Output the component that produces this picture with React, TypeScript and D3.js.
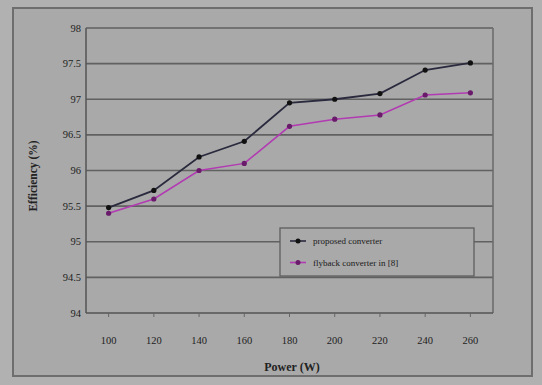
import React, { useEffect, useRef } from "react";
import * as d3 from "d3";

const powers = [100, 120, 140, 160, 180, 200, 220, 240, 260];
const proposed = [95.48, 95.72, 96.19, 96.41, 96.95, 97.0, 97.08, 97.41, 97.51];
const flyback = [95.4, 95.6, 96.0, 96.1, 96.62, 96.72, 96.78, 97.06, 97.09];
const yTicks = [94, 94.5, 95, 95.5, 96, 96.5, 97, 97.5, 98];
const seriesNames = ["proposed converter", "flyback converter in [8]"];

const App = () => {
  const svgRef = useRef<SVGSVGElement>(null);

  useEffect(() => {
    const width = 542;
    const height = 385;
    const plot = { left: 86, right: 493, top: 28, bottom: 313 };

    const svg = d3.select(svgRef.current);
    svg.selectAll("*").remove();

    // page + chart frame
    svg.append("rect").attr("width", width).attr("height", height).attr("fill", "#b1b1b1");
    svg.append("rect")
      .attr("x", 13).attr("y", 8).attr("width", 519).attr("height", 368)
      .attr("fill", "#a9a9a9").attr("stroke", "#6e6e6e").attr("stroke-width", 2);

    const x = d3.scaleBand<number>()
      .domain(powers)
      .range([plot.left, plot.right]);
    const y = d3.scaleLinear().domain([94, 98]).range([plot.bottom, plot.top]);

    // gridlines
    svg.append("g")
      .selectAll("line")
      .data(yTicks.slice(1))
      .enter()
      .append("line")
      .attr("x1", plot.left).attr("x2", plot.right)
      .attr("y1", d => y(d)).attr("y2", d => y(d))
      .attr("stroke", "#616161").attr("stroke-width", 1.6);

    // plot borders (left, right, bottom)
    svg.append("line")
      .attr("x1", plot.left).attr("x2", plot.left)
      .attr("y1", plot.top).attr("y2", plot.bottom)
      .attr("stroke", "#555").attr("stroke-width", 1.5);
    svg.append("line")
      .attr("x1", plot.right).attr("x2", plot.right)
      .attr("y1", plot.top).attr("y2", plot.bottom)
      .attr("stroke", "#6a6a6a").attr("stroke-width", 1.5);
    svg.append("line")
      .attr("x1", plot.left).attr("x2", plot.right)
      .attr("y1", plot.bottom).attr("y2", plot.bottom)
      .attr("stroke", "#555").attr("stroke-width", 1.5);

    // x tick marks
    svg.append("g")
      .selectAll("line")
      .data(powers)
      .enter()
      .append("line")
      .attr("x1", d => x(d)! + x.bandwidth() / 2)
      .attr("x2", d => x(d)! + x.bandwidth() / 2)
      .attr("y1", plot.bottom).attr("y2", plot.bottom + 4)
      .attr("stroke", "#666");

    const font = "'Liberation Serif', 'DejaVu Serif', serif";

    // y tick labels
    svg.append("g")
      .selectAll("text")
      .data(yTicks)
      .enter()
      .append("text")
      .attr("x", 81)
      .attr("y", d => y(d) + 3.5)
      .attr("text-anchor", "end")
      .attr("font-family", font).attr("font-size", 10.5)
      .attr("fill", "#222")
      .text(d => String(d));

    // x tick labels
    svg.append("g")
      .selectAll("text")
      .data(powers)
      .enter()
      .append("text")
      .attr("x", d => x(d)! + x.bandwidth() / 2)
      .attr("y", 344)
      .attr("text-anchor", "middle")
      .attr("font-family", font).attr("font-size", 10.5)
      .attr("fill", "#222")
      .text(d => String(d));

    // axis titles
    svg.append("text")
      .attr("x", 292).attr("y", 371)
      .attr("text-anchor", "middle")
      .attr("font-family", font).attr("font-size", 12).attr("font-weight", "bold")
      .attr("fill", "#222")
      .text("Power (W)");
    svg.append("text")
      .attr("transform", "translate(37,176) rotate(-90)")
      .attr("text-anchor", "middle")
      .attr("font-family", font).attr("font-size", 11.5).attr("font-weight", "bold")
      .attr("fill", "#222")
      .text("Efficiency (%)");

    const line = d3.line<number>()
      .x((_, i) => x(powers[i])! + x.bandwidth() / 2)
      .y(d => y(d));

    const series = [
      { values: flyback, color: "#b23ab2", marker: "#6a1a6a", width: 1.5 },
      { values: proposed, color: "#2a2a3e", marker: "#111", width: 1.8 },
    ];

    series.forEach(s => {
      svg.append("path")
        .datum(s.values)
        .attr("fill", "none")
        .attr("stroke", s.color)
        .attr("stroke-width", s.width)
        .attr("d", line);
      svg.append("g")
        .selectAll("circle")
        .data(s.values)
        .enter()
        .append("circle")
        .attr("cx", (_, i) => x(powers[i])! + x.bandwidth() / 2)
        .attr("cy", d => y(d))
        .attr("r", 2.6)
        .attr("fill", s.marker);
    });

    // legend
    const lg = svg.append("g").attr("transform", "translate(280,228)");
    lg.append("rect")
      .attr("width", 194).attr("height", 48)
      .attr("fill", "#a9a9a9").attr("stroke", "#5e5e5e").attr("stroke-width", 1.3);
    const legendColors = [
      { color: "#2a2a3e", marker: "#111" },
      { color: "#b23ab2", marker: "#6a1a6a" },
    ];
    seriesNames.forEach((name, i) => {
      const yy = 13 + i * 21.5;
      lg.append("line")
        .attr("x1", 10).attr("x2", 26).attr("y1", yy).attr("y2", yy)
        .attr("stroke", legendColors[i].color).attr("stroke-width", 1.6);
      lg.append("circle")
        .attr("cx", 18).attr("cy", yy).attr("r", 2.5)
        .attr("fill", legendColors[i].marker);
      lg.append("text")
        .attr("x", 33).attr("y", yy + 3)
        .attr("font-family", font).attr("font-size", 9)
        .attr("fill", "#1a1a1a")
        .text(name);
    });
  }, []);

  return (
    <svg
      ref={svgRef}
      width={542}
      height={385}
      style={{ position: "absolute", left: 0, top: 0, display: "block" }}
    />
  );
};

export default App;
